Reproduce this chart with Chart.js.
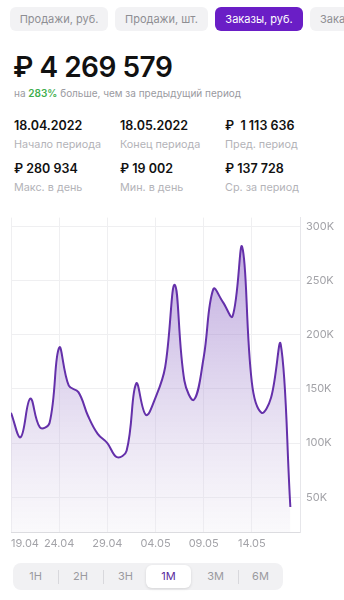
<!DOCTYPE html>
<html>
<head>
<meta charset="utf-8">
<script src="https://cdn.jsdelivr.net/npm/chart.js@4.4.1/dist/chart.umd.min.js"></script>
<style>
  body { margin: 0; width: 344px; height: 600px; overflow: hidden; background: #fff; font-family: Inter, "Noto Sans", sans-serif; color: #111; position: relative; }
  .tab { position: absolute; top: 7px; height: 24px; line-height: 24px; border-radius: 6px; background: #f2f2f4; color: #8e8e93; font-size: 11px; text-align: center; white-space: nowrap; overflow: hidden; }
  .tab.active { background: #6a1ec6; color: #fff; }
  .total { position: absolute; left: 13px; top: 50px; font-size: 28px; font-weight: 600; letter-spacing: -0.5px; }
  .diff { position: absolute; left: 14px; top: 87px; font-size: 10px; color: #9a9a9f; }
  .diff b { color: #3fae4f; font-weight: 600; }
  .stat { position: absolute; }
  .stat .v { font-size: 12.5px; font-weight: 600; }
  .stat .l { font-size: 10.8px; color: #b3b3b8; margin-top: 5px; }
  #chartBox { position: absolute; left: 0; top: 205px; width: 344px; height: 349px; }
  .periods { position: absolute; left: 13px; top: 563px; width: 270px; height: 27px; background: #f1f1f3; border-radius: 8px; font-size: 11px; color: #9a9a9f; }
  .periods span { position: absolute; top: 0; width: 45px; height: 27px; line-height: 27px; text-align: center; }
  .periods span.sep { width: 1px; height: 14px; top: 7px; background: #d8d8dc; }
  .periods span.active { top: 2px; height: 23px; line-height: 23px; background: #fff; border-radius: 6px; color: #5a2a9c; box-shadow: 0 1px 3px rgba(0,0,0,0.12); }
</style>
</head>
<body>
<div class="tab" style="left:10px;width:98px">Продажи, руб.</div>
<div class="tab" style="left:115px;width:93px">Продажи, шт.</div>
<div class="tab active" style="left:215px;width:88px">Заказы, руб.</div>
<div class="tab" style="left:310px;width:88px;text-align:left;padding-left:10px">Заказы, шт.</div>

<div class="total">₽ 4 269 579</div>
<div class="diff">на <b>283%</b> больше, чем за предыдущий период</div>

<div class="stat" style="left:14px;top:118px"><div class="v">18.04.2022</div><div class="l">Начало периода</div></div>
<div class="stat" style="left:120px;top:118px"><div class="v">18.05.2022</div><div class="l">Конец периода</div></div>
<div class="stat" style="left:225px;top:118px"><div class="v">₽&nbsp; 1 113 636</div><div class="l">Пред. период</div></div>
<div class="stat" style="left:14px;top:161px"><div class="v">₽ 280 934</div><div class="l">Макс. в день</div></div>
<div class="stat" style="left:120px;top:161px"><div class="v">₽ 19 002</div><div class="l">Мин. в день</div></div>
<div class="stat" style="left:225px;top:161px"><div class="v">₽ 137 728</div><div class="l">Ср. за период</div></div>

<div id="chartBox"><canvas id="ordersChart"></canvas></div>

<div class="periods" id="periods"></div>

<script>
// daily orders, rub
const days = ['19.04', '20.04', '21.04', '22.04', '23.04', '24.04', '25.04', '26.04', '27.04', '28.04',
  '29.04', '30.04', '01.05', '02.05', '03.05', '04.05', '05.05', '06.05', '07.05', '08.05',
  '09.05', '10.05', '11.05', '12.05', '13.05', '14.05', '15.05', '16.05', '17.05', '18.05'];
const orders = [128000, 105500, 141000, 114500, 118500, 188000, 153000, 147000, 125000, 108500,
  100000, 87000, 93000, 155000, 126000, 142000, 170000, 246000, 157500, 140000,
  179000, 242000, 230000, 217000, 280934, 156000, 128000, 142000, 191000, 41000];
const yTicks = [50000, 100000, 150000, 200000, 250000, 300000];
const periodLabels = ['1Н', '2Н', '3Н', '1М', '3М', '6М'];
const activePeriod = '1М';

// period switcher under the chart
const periodsEl = document.getElementById('periods');
periodLabels.forEach((p, i) => {
  const s = document.createElement('span');
  s.textContent = p;
  s.style.left = (i * 45) + 'px';
  if (p === activePeriod) {
    s.classList.add('active');
    s.style.left = (i * 45 - 2) + 'px';
  }
  periodsEl.appendChild(s);
  if (i > 0 && p !== activePeriod && periodLabels[i - 1] !== activePeriod) {
    const sep = document.createElement('span');
    sep.className = 'sep';
    sep.style.left = (i * 45) + 'px';
    periodsEl.appendChild(sep);
  }
});

function fillGradient(context) {
  const area = context.chart.chartArea;
  if (!area) return 'rgba(150,110,200,0.3)';
  const g = context.chart.ctx.createLinearGradient(0, area.top, 0, area.bottom);
  g.addColorStop(0, 'rgba(126, 80, 190, 0.55)');
  g.addColorStop(0.55, 'rgba(170, 145, 210, 0.35)');
  g.addColorStop(1, 'rgba(235, 232, 240, 0.25)');
  return g;
}

const ctx = document.getElementById('ordersChart').getContext('2d');
new Chart(ctx, {
  type: 'line',
  data: {
    datasets: [{
      data: orders.map((v, i) => ({ x: i, y: v })),
      borderColor: '#6430aa',
      borderWidth: 2,
      backgroundColor: fillGradient,
      fill: 'start',
      tension: 0.4,
      pointRadius: 0
    }]
  },
  options: {
    responsive: true,
    maintainAspectRatio: false,
    animation: false,
    layout: { padding: { left: 11, top: 10, right: 0, bottom: 0 } },
    plugins: { legend: { display: false }, tooltip: { enabled: false } },
    scales: {
      x: {
        type: 'linear',
        min: 0,
        max: days.length,
        afterFit: scale => { scale.height = 22; },
        grid: { color: '#efeff1', drawTicks: false },
        border: { color: '#dcdce0' },
        ticks: {
          stepSize: 5,
          align: 'inner',
          padding: 5,
          maxRotation: 0,
          color: '#a3a3a8',
          font: { family: 'Inter', size: 11 },
          callback: v => days[v] || ''
        }
      },
      y: {
        position: 'right',
        min: 18000,
        max: 308000,
        afterFit: scale => { scale.width = 44; },
        afterBuildTicks: scale => { scale.ticks = yTicks.map(v => ({ value: v })); },
        grid: { color: '#efeff1', drawTicks: false },
        border: { color: '#e6e6ea' },
        ticks: {
          padding: 6,
          color: '#a3a3a8',
          font: { family: 'Inter', size: 11 },
          callback: v => (v / 1000) + 'K'
        }
      }
    }
  }
});
</script>
</body>
</html>
